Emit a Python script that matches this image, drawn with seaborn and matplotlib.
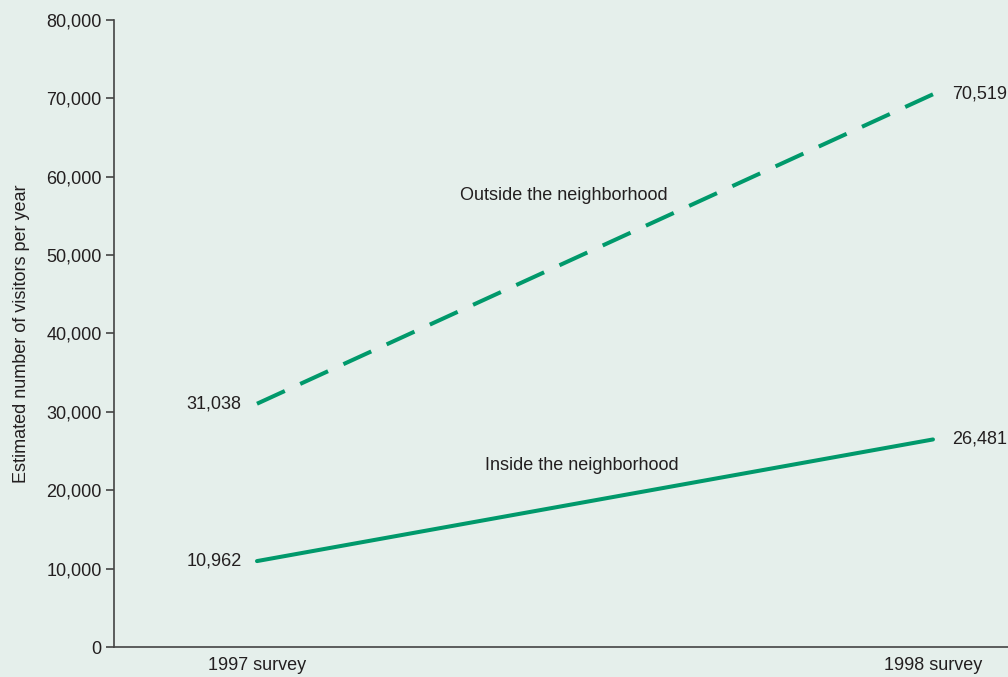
import numpy as np
import pandas as pd
import matplotlib
matplotlib.use("Agg")
import matplotlib.pyplot as plt
import seaborn as sns

surveys = ["1997 survey", "1998 survey"]
outside = [31038, 70519]
inside = [10962, 26481]
series_names = ["Outside the neighborhood", "Inside the neighborhood"]
y_ticks = [0, 10000, 20000, 30000, 40000, 50000, 60000, 70000, 80000]

bg = "#e5efeb"
green = "#00996b"
ink = "#231f20"
fs = 13

sns.set_theme(style="white")
plt.rcParams["font.family"] = ["Liberation Sans", "DejaVu Sans"]

df = pd.DataFrame({
    "x": [0, 1, 0, 1],
    "visitors": outside + inside,
    "location": [series_names[0]] * 2 + [series_names[1]] * 2,
})

fig = plt.figure(figsize=(10.08, 6.77), dpi=100, facecolor=bg)
ax = fig.add_axes([0.1131, 0.0443, 0.8869, 0.9262])
ax.set_facecolor(bg)

sns.lineplot(data=df, x="x", y="visitors", style="location",
             dashes={series_names[0]: (7.6, 4.2), series_names[1]: ""},
             color=green, linewidth=2.9, legend=False, ax=ax)

ax.set_xlim(-0.2115, 1.111)
ax.set_ylim(0, 80000)
ax.set_yticks(y_ticks)
ax.set_yticklabels([f"{v:,}" for v in y_ticks], fontsize=fs, color=ink)
ax.set_xticks([0, 1])
ax.set_xticklabels(surveys, fontsize=fs, color=ink)
ax.tick_params(axis="y", left=True, length=5.8, width=1.2, color="#444444", pad=3)
ax.tick_params(axis="x", bottom=False, length=0, pad=7.5)
ax.set_xlabel("")
ax.set_ylabel("Estimated number of visitors per year", fontsize=fs, color=ink, labelpad=12)

for s in ["top", "right"]:
    ax.spines[s].set_visible(False)
for s in ["left", "bottom"]:
    ax.spines[s].set_color("#444444")
    ax.spines[s].set_linewidth(1.2)

# end-point value labels
for vals in (outside, inside):
    ax.annotate(f"{vals[0]:,}", (0, vals[0]), xytext=(-11, 0), textcoords="offset points",
                ha="right", va="center", fontsize=fs, color=ink)
    ax.annotate(f"{vals[1]:,}", (1, vals[1]), xytext=(13.5, 0), textcoords="offset points",
                ha="left", va="center", fontsize=fs, color=ink)

ax.text(0.4533, 57600, series_names[0], ha="center", va="center", fontsize=fs, color=ink)
ax.text(0.4799, 23200, series_names[1], ha="center", va="center", fontsize=fs, color=ink)

fig.savefig("out.png", dpi=100, facecolor=bg)
